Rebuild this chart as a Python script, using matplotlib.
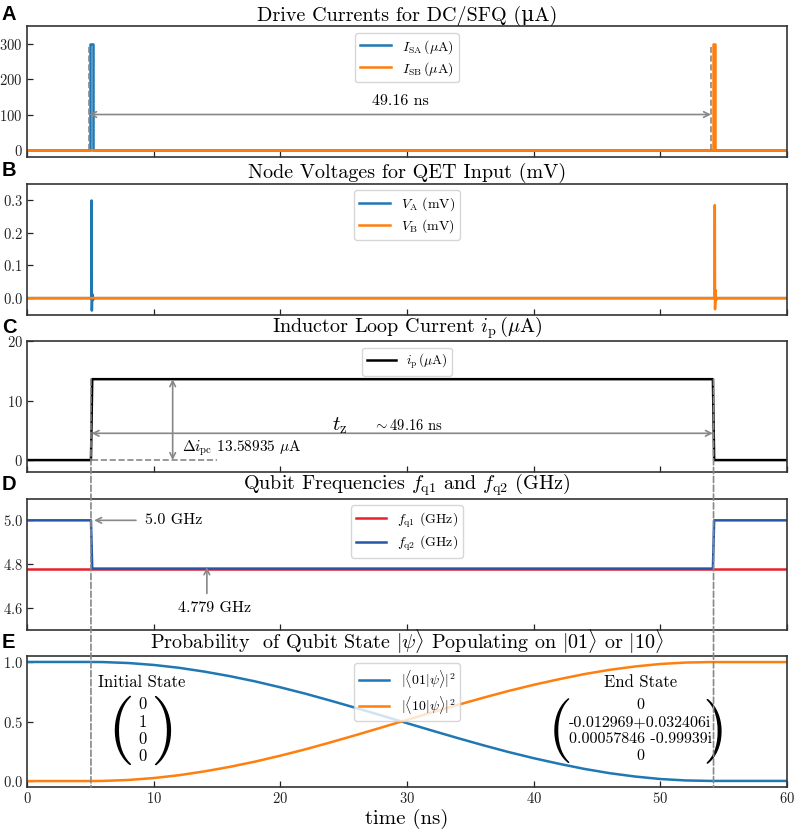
import matplotlib
matplotlib.use('Agg')
import matplotlib.pyplot as plt
from matplotlib.patches import ConnectionPatch

plt.rcParams['font.family'] = ['cmr10', 'DejaVu Serif']
plt.rcParams['mathtext.fontset'] = 'cm'
plt.rcParams['axes.formatter.use_mathtext'] = True
plt.rcParams['axes.unicode_minus'] = False

MU = '\u03bc'

# A: drive currents (uA)
t_sa = [0, 5.0, 5.0, 5.2, 5.2, 60]
i_sa = [0, 0, 300, 300, 0, 0]
t_sb = [0, 54.15, 54.15, 54.35, 54.35, 60]
i_sb = [0, 0, 300, 300, 0, 0]

# B: node voltages (mV)
t_va = [0, 5.02, 5.08, 5.1, 5.12, 5.15, 5.2, 5.3, 60]
v_a = [0, 0, 0.0, 0.298, -0.038, 0.012, -0.006, 0, 0]
t_vb = [0, 54.22, 54.28, 54.3, 54.32, 54.35, 54.4, 54.5, 60]
v_b = [0, 0, 0.0, 0.284, -0.034, 0.025, -0.006, 0, 0]

# C: inductor loop current (uA)
t_ip = [0, 5.05, 5.15, 54.15, 54.25, 60]
i_p = [0, 0, 13.58935, 13.58935, 0, 0]

# D: qubit frequencies (GHz)
t_fq = [0, 5.05, 5.15, 54.15, 54.25, 60]
fq1 = [4.779, 4.779, 4.779, 4.779, 4.779, 4.779]
fq2 = [5.0, 5.0, 4.779, 4.779, 5.0, 5.0]

# E: populations
t_e = [0, 2, 4, 5, 6, 8, 10, 12, 14, 16, 18, 20, 22, 24, 26, 28, 30, 32, 34,
       36, 38, 40, 42, 44, 46, 48, 50, 52, 54, 54.16, 56, 58, 60]
p01 = [1, 1, 1, 1, 0.999, 0.991, 0.975, 0.951, 0.919, 0.881, 0.837, 0.787,
       0.733, 0.674, 0.613, 0.550, 0.486, 0.423, 0.361, 0.301, 0.244, 0.192,
       0.145, 0.102, 0.066, 0.038, 0.017, 0.005, 0.001, 0.001, 0.001, 0.001, 0.001]
p10 = [0, 0, 0, 0, 0.001, 0.009, 0.025, 0.049, 0.081, 0.119, 0.163, 0.213,
       0.267, 0.326, 0.387, 0.450, 0.514, 0.577, 0.639, 0.699, 0.756, 0.808,
       0.855, 0.898, 0.934, 0.962, 0.983, 0.995, 0.999, 0.999, 0.999, 0.999, 0.999]

init_state = ['0', '1', '0', '0']
end_state = ['0', '-0.012969+0.032406i', '0.00057846 -0.99939i', '0']

t_start = 5.05
t_end = 54.2

W, H = 796, 834
fig = plt.figure(figsize=(W / 100, H / 100), dpi=100)

tops = [26, 183.5, 341, 498.5, 656]
axh = 131
left, right = 27, 787
axes = []
for tp in tops:
    ax = fig.add_axes([left / W, 1 - (tp + axh) / H, (right - left) / W, axh / H])
    ax.set_xlim(0, 60)
    ax.set_xticks(range(0, 61, 10))
    ax.tick_params(direction='in', length=4, width=0.9, labelsize=10.5, colors='#222222', pad=3)
    for s in ax.spines.values():
        s.set_linewidth(1.2)
        s.set_color('#333333')
    axes.append(ax)
axA, axB, axC, axD, axE = axes
for ax in axes[:4]:
    ax.tick_params(labelbottom=False)

gray = '#888888'
blue = '#1f77b4'
orange = '#ff7f0e'
title_fs = 14.5
leg = dict(loc='upper center', fontsize=10, labelspacing=0.3, borderpad=0.35,
           handlelength=2.2)

# panel letters
letters = ['A', 'B', 'C', 'D', 'E']
for k, tp in enumerate(tops):
    yb = 20 if k == 0 else tp - 8
    fig.text(2 / W, 1 - yb / H, letters[k], fontsize=14.5, fontweight='bold',
             family='Liberation Sans', va='baseline', ha='left')

# A
axA.plot(t_sa, i_sa, color=blue, lw=1.8, label=r'$I_{\rm SA}\,(\mu$A)')
axA.plot(t_sb, i_sb, color=orange, lw=1.8, label=r'$I_{\rm SB}\,(\mu$A)')
axA.plot([4.9, 4.9], [0, 290], ls='--', color=gray, lw=1.2)
axA.plot([54.0, 54.0], [0, 290], ls='--', color=gray, lw=1.2)
axA.annotate('', xy=(54.0, 100), xytext=(4.9, 100),
             arrowprops=dict(arrowstyle='<->', color=gray, lw=1.2, shrinkA=0, shrinkB=0))
axA.text(29.5, 118, '49.16 ns', fontsize=11.5, ha='center', va='bottom')
axA.set_ylim(-20, 350)
axA.set_yticks([0, 100, 200, 300])
axA.set_title('Drive Currents for DC/SFQ (' + MU + 'A)', fontsize=title_fs, pad=4)
axA.legend(**leg)

# B
axB.plot(t_va, v_a, color=blue, lw=1.8, label=r'$V_{\rm A}$ (mV)')
axB.plot(t_vb, v_b, color=orange, lw=1.8, label=r'$V_{\rm B}$ (mV)')
axB.set_ylim(-0.05, 0.35)
axB.set_yticks([0.0, 0.1, 0.2, 0.3])
axB.set_title('Node Voltages for QET Input (mV)', fontsize=title_fs, pad=4)
axB.legend(**leg)

# C
axC.plot(t_ip, i_p, color='black', lw=1.8, label=r'$i_{\rm p}\,(\mu$A)')
axC.plot([5.1, 15], [0, 0], ls='--', color=gray, lw=1.2)
axC.annotate('', xy=(11.5, 13.58935), xytext=(11.5, 0),
             arrowprops=dict(arrowstyle='<->', color=gray, lw=1.2, shrinkA=0, shrinkB=0))
axC.annotate('', xy=(54.15, 4.5), xytext=(5.1, 4.5),
             arrowprops=dict(arrowstyle='<->', color=gray, lw=1.2, shrinkA=0, shrinkB=0))
axC.text(12.2, 2.0, r'$\Delta i_{\rm pc}$ 13.58935 $\mu$A', fontsize=11, ha='left', va='center')
axC.text(24.7, 5.0, r'$t_{\rm z}$', fontsize=15, ha='center', va='baseline')
axC.text(27.3, 5.0, r'$\sim$49.16 ns', fontsize=10.5, ha='left', va='baseline')
axC.set_ylim(-2, 20)
axC.set_yticks([0, 10, 20])
axC.set_title(r'Inductor Loop Current $i_{\rm p}\,(\mu$A)', fontsize=title_fs, pad=4)
axC.legend(**dict(leg, fontsize=9.5))

# D
axD.plot(t_fq, fq1, color='#e8202a', lw=1.8, label=r'$f_{\rm q1}$ (GHz)')
axD.plot(t_fq, fq2, color='#2456aa', lw=1.8, label=r'$f_{\rm q2}$ (GHz)')
axD.annotate('', xy=(5.3, 5.0), xytext=(8.6, 5.0),
             arrowprops=dict(arrowstyle='->', color=gray, lw=1.2, shrinkA=0, shrinkB=0))
axD.text(9.3, 5.0, '5.0 GHz', fontsize=11.5, ha='left', va='center')
axD.annotate('', xy=(14.2, 4.785), xytext=(14.2, 4.665),
             arrowprops=dict(arrowstyle='->', color=gray, lw=1.2, shrinkA=0, shrinkB=0))
axD.text(11.9, 4.6, '4.779 GHz', fontsize=11.5, ha='left', va='center')
axD.set_ylim(4.5, 5.1)
axD.set_yticks([4.6, 4.8, 5.0])
axD.set_title(r'Qubit Frequencies $f_{\rm q1}$ and $f_{\rm q2}$ (GHz)', fontsize=title_fs, pad=4)
axD.legend(**leg)

# E
axE.plot(t_e, p01, color=blue, lw=1.8, label=r'$|\langle 01|\psi\rangle|^2$')
axE.plot(t_e, p10, color=orange, lw=1.8, label=r'$|\langle 10|\psi\rangle|^2$')
axE.set_ylim(-0.05, 1.05)
axE.set_yticks([0.0, 0.5, 1.0])
axE.set_title(r'Probability  of Qubit State $|\psi\rangle$ Populating on $|01\rangle$ or $|10\rangle$',
              fontsize=title_fs, pad=4)
axE.set_xlabel('time (ns)', fontsize=15, labelpad=2)
axE.legend(**leg)

rows_y = [0.64, 0.497, 0.354, 0.211]
axE.text(5.6, 0.83, 'Initial State', fontsize=12, ha='left', va='center')
for v, y in zip(init_state, rows_y):
    axE.text(9.1, y, v, fontsize=12, ha='center', va='center')
axE.text(7.4, 0.425, '(', fontsize=50, ha='center', va='center')
axE.text(10.8, 0.425, ')', fontsize=50, ha='center', va='center')

axE.text(48.4, 0.83, 'End State', fontsize=12, ha='center', va='center')
for v, y in zip(end_state, rows_y):
    axE.text(48.4, y, v, fontsize=11.5, ha='center', va='center')
axE.text(42.1, 0.425, '(', fontsize=46, ha='center', va='center')
axE.text(54.3, 0.425, ')', fontsize=46, ha='center', va='center')

# dashed guide lines across C-E
for tx in [t_start, t_end]:
    con = ConnectionPatch(xyA=(tx, 13.58935), coordsA=axC.transData,
                          xyB=(tx, -0.05), coordsB=axE.transData,
                          linestyle='--', color=gray, lw=1.2)
    fig.add_artist(con)

fig.savefig('out.png', dpi=100)
